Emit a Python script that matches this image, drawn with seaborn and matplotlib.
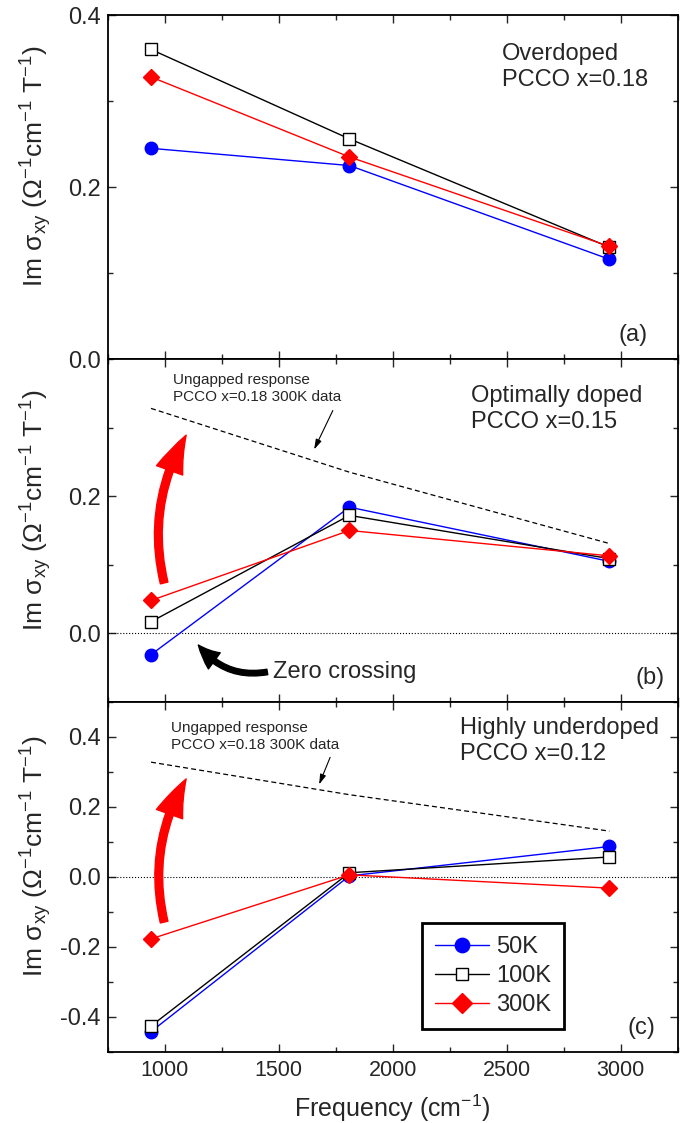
import matplotlib
matplotlib.use("Agg")
import matplotlib.pyplot as plt
from matplotlib.ticker import MultipleLocator, FormatStrFormatter
import seaborn as sns

# frequencies (cm^-1)
freq = [940, 1810, 2950]

# (a) overdoped PCCO x=0.18
od_50K = [0.245, 0.225, 0.116]
od_100K = [0.360, 0.256, 0.130]
od_300K = [0.328, 0.235, 0.131]

# (b) optimally doped PCCO x=0.15
opt_50K = [-0.031, 0.184, 0.105]
opt_100K = [0.017, 0.172, 0.109]
opt_300K = [0.048, 0.150, 0.113]

# (c) highly underdoped PCCO x=0.12
ud_50K = [-0.442, 0.003, 0.087]
ud_100K = [-0.426, 0.012, 0.057]
ud_300K = [-0.177, 0.006, -0.032]

temps = ["50K", "100K", "300K"]
panel_titles = ["Overdoped\nPCCO x=0.18", "Optimally doped\nPCCO x=0.15",
                "Highly underdoped\nPCCO x=0.12"]
panel_tags = ["(a)", "(b)", "(c)"]
ref_text = "Ungapped response\nPCCO x=0.18 300K data"

sns.set_theme(style="ticks")
plt.rcParams["font.family"] = ["Liberation Sans", "DejaVu Sans"]
plt.rcParams["mathtext.default"] = "regular"
plt.rcParams["axes.unicode_minus"] = False

styles = {
    "50K": dict(color="blue", marker="o", markersize=9, markerfacecolor="blue", markeredgecolor="blue"),
    "100K": dict(color="black", marker="s", markersize=8, markerfacecolor="white", markeredgecolor="black"),
    "300K": dict(color="red", marker="D", markersize=8.5, markerfacecolor="red", markeredgecolor="red"),
}

fig, axes = plt.subplots(3, 1, figsize=(6.86, 11.23), dpi=100, sharex=True,
                         gridspec_kw=dict(hspace=0, height_ratios=[344, 343, 350]))
fig.subplots_adjust(left=0.157, right=0.988, top=0.9866, bottom=0.0633)

series = [
    [od_50K, od_100K, od_300K],
    [opt_50K, opt_100K, opt_300K],
    [ud_50K, ud_100K, ud_300K],
]
ylims = [(0, 0.4), (-0.1, 0.4), (-0.5, 0.5)]
title_pos = [(0.6915, 0.850), (0.637, 0.854), (0.618, 0.889)]
tag_pos = [(0.921, 0.070), (0.951, 0.070), (0.937, 0.068)]

for i, ax in enumerate(axes):
    # ungapped reference (300K overdoped data) in panels b and c
    if i > 0:
        sns.lineplot(x=freq, y=od_300K, ax=ax, color="black", linewidth=0.9,
                     linestyle=(0, (4, 2.5)), legend=False)
        ax.axhline(0, color="black", linestyle=":", linewidth=0.8, zorder=1)

    for t, vals in zip(temps, series[i]):
        sns.lineplot(x=freq, y=vals, ax=ax, linewidth=1.0, markeredgewidth=1.0,
                     legend=False, label=t, **styles[t])

    ax.set_xlim(750, 3250)
    ax.set_ylim(*ylims[i])
    ax.xaxis.set_major_locator(MultipleLocator(500))
    ax.xaxis.set_minor_locator(MultipleLocator(250))
    ax.yaxis.set_major_locator(MultipleLocator(0.2))
    ax.yaxis.set_minor_locator(MultipleLocator(0.1))
    ax.yaxis.set_major_formatter(FormatStrFormatter("%.1f"))
    ax.tick_params(which="both", direction="in", top=True, right=True, width=1.0)
    ax.tick_params(which="major", length=6)
    ax.tick_params(which="minor", length=3.5)
    ax.tick_params(axis="y", labelsize=17, pad=5)
    ax.tick_params(axis="x", labelsize=15.5, pad=6)
    for sp in ax.spines.values():
        sp.set_linewidth(1.3)
        sp.set_color("black")

    ax.set_ylabel("Im σ$_{xy}$ (Ω$^{-1}$cm$^{-1}$ T$^{-1}$)", fontsize=19)
    ax.yaxis.set_label_coords(-0.095, 0.56)

    ax.text(*title_pos[i], panel_titles[i], transform=ax.transAxes, fontsize=17,
            ha="left", va="center", linespacing=1.25)
    ax.text(*tag_pos[i], panel_tags[i], transform=ax.transAxes, fontsize=17,
            ha="center", va="center")

# hide 0.4 label on panel b (overlaps panel a's 0.0)
axes[1].set_yticks([0.0, 0.2])
axes[1].set_ylim(-0.1, 0.4)

red_arrow = dict(arrowstyle="simple,head_width=1.0,head_length=1.4,tail_width=0.28",
                 color="red", connectionstyle="arc3,rad=-0.2", mutation_scale=20,
                 shrinkA=0, shrinkB=0)
thin_arrow = dict(arrowstyle="-|>,head_width=0.15,head_length=0.5", color="black", lw=0.8)

# annotations, panel b
ax = axes[1]
ax.text(0.115, 0.915, ref_text, transform=ax.transAxes, fontsize=11,
        ha="left", va="center", linespacing=1.3)
ax.annotate("", xy=(0.360, 0.729), xytext=(0.397, 0.857), xycoords="axes fraction",
            arrowprops=thin_arrow)
ax.annotate("", xy=(0.1376, 0.778), xytext=(0.099, 0.347), xycoords="axes fraction",
            arrowprops=red_arrow)
ax.text(0.290, 0.0875, "Zero crossing", transform=ax.transAxes, fontsize=17,
        ha="left", va="center")
ax.annotate("", xy=(0.159, 0.166), xytext=(0.280, 0.0875), xycoords="axes fraction",
            arrowprops=dict(arrowstyle="simple,head_width=0.8,head_length=0.9,tail_width=0.22",
                            color="black", connectionstyle="arc3,rad=-0.3", mutation_scale=18,
                            shrinkA=0, shrinkB=0))

# annotations, panel c
ax = axes[2]
ax.text(0.111, 0.901, ref_text, transform=ax.transAxes, fontsize=11,
        ha="left", va="center", linespacing=1.3)
ax.annotate("", xy=(0.369, 0.757), xytext=(0.392, 0.849), xycoords="axes fraction",
            arrowprops=thin_arrow)
ax.annotate("", xy=(0.1376, 0.78), xytext=(0.099, 0.371), xycoords="axes fraction",
            arrowprops=red_arrow)

leg = ax.legend(loc="upper left", bbox_to_anchor=(0.551, 0.369), fontsize=17,
                frameon=True, fancybox=False, edgecolor="black", framealpha=1,
                borderaxespad=0, handlelength=2.3, labelspacing=0.3, borderpad=0.55,
                handletextpad=0.3, markerscale=1.15)
leg.get_frame().set_linewidth(2.0)

axes[2].set_xlabel("Frequency (cm$^{-1}$)", fontsize=18, labelpad=8)

fig.savefig("out.png", dpi=100)
